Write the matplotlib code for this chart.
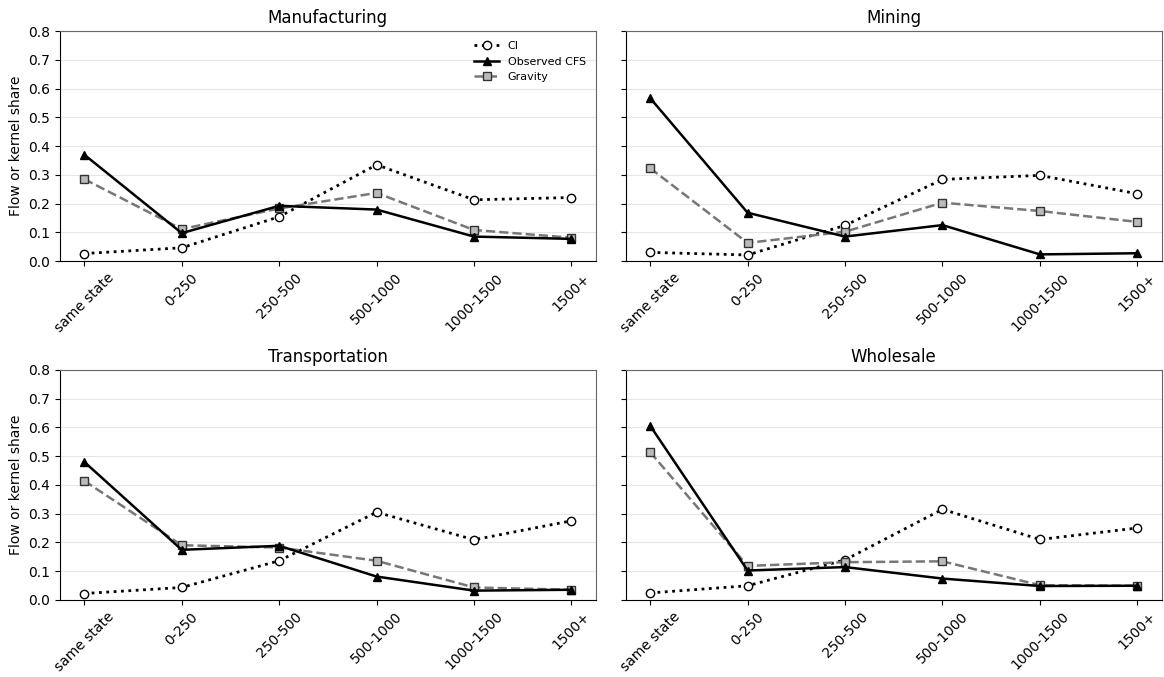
import numpy as np
import matplotlib.pyplot as plt

bins = ['same state', '0-250', '250-500', '500-1000', '1000-1500', '1500+']
sectors = ['Manufacturing', 'Mining', 'Transportation', 'Wholesale']

ci = {
    'Manufacturing': [0.026, 0.046, 0.154, 0.335, 0.213, 0.221],
    'Mining': [0.030, 0.021, 0.124, 0.284, 0.298, 0.234],
    'Transportation': [0.022, 0.043, 0.136, 0.305, 0.209, 0.275],
    'Wholesale': [0.024, 0.049, 0.139, 0.315, 0.210, 0.250],
}
observed = {
    'Manufacturing': [0.370, 0.097, 0.192, 0.179, 0.085, 0.077],
    'Mining': [0.567, 0.168, 0.085, 0.125, 0.023, 0.027],
    'Transportation': [0.480, 0.174, 0.188, 0.081, 0.032, 0.035],
    'Wholesale': [0.606, 0.102, 0.114, 0.074, 0.048, 0.049],
}
gravity = {
    'Manufacturing': [0.285, 0.111, 0.183, 0.237, 0.108, 0.081],
    'Mining': [0.323, 0.063, 0.102, 0.203, 0.174, 0.136],
    'Transportation': [0.414, 0.190, 0.182, 0.136, 0.043, 0.035],
    'Wholesale': [0.514, 0.118, 0.131, 0.134, 0.051, 0.049],
}

fig, axes = plt.subplots(2, 2, figsize=(11.64, 6.77), dpi=100, sharey=True)
fig.subplots_adjust(left=0.0515, right=0.998, top=0.954, bottom=0.114,
                    hspace=0.474, wspace=0.056)

x = np.arange(len(bins))
for ax, sec in zip(axes.flat, sectors):
    ax.plot(x, ci[sec], linestyle=':', color='black', linewidth=2,
            marker='o', markersize=6, markerfacecolor='white',
            markeredgecolor='black', label='CI', zorder=3)
    ax.plot(x, observed[sec], linestyle='-', color='black', linewidth=1.8,
            marker='^', markersize=6, markerfacecolor='black',
            markeredgecolor='black', label='Observed CFS', zorder=4)
    ax.plot(x, gravity[sec], linestyle='--', color='#777777', linewidth=1.8,
            marker='s', markersize=6, markerfacecolor='#bbbbbb',
            markeredgecolor='#333333', label='Gravity', zorder=3)
    ax.set_title(sec, fontsize=12)
    ax.set_ylim(0, 0.8)
    ax.set_yticks(np.arange(0, 0.81, 0.1))
    ax.set_xticks(x)
    ax.set_xticklabels(bins, rotation=45, fontsize=10)
    ax.tick_params(axis='y', labelsize=10)
    ax.grid(axis='y', color='#e6e6e6', linewidth=0.8)
    ax.set_axisbelow(True)
    ax.spines['top'].set_color('#666666')
    ax.spines['right'].set_color('#666666')

for ax in axes[:, 0]:
    ax.set_ylabel('Flow or kernel share', fontsize=10)

axes[0, 0].legend(loc='upper right', frameon=False, fontsize=8,
                  handlelength=2.2)

fig.savefig('out.png', dpi=100)
